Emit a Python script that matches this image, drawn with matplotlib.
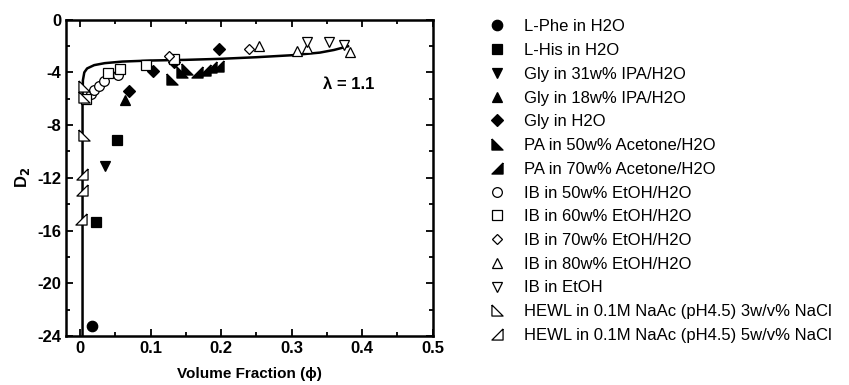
import numpy as np
import matplotlib.pyplot as plt
from matplotlib.ticker import MultipleLocator

plt.rcParams['font.family'] = ['Liberation Sans', 'DejaVu Sans']
plt.rcParams['axes.unicode_minus'] = False

# fitted curve (lambda = 1.1)
curve_phi = [0.0035, 0.0035, 0.004, 0.006, 0.01, 0.02, 0.035, 0.06, 0.1,
             0.15, 0.2, 0.25, 0.3, 0.34, 0.36, 0.38]
curve_d2 = [-24.0, -6.0, -4.6, -4.0, -3.7, -3.45, -3.3, -3.18, -3.1,
            -3.05, -2.97, -2.85, -2.7, -2.5, -2.3, -2.02]

# experimental series
labels = [
    "L-Phe in H2O",
    "L-His in H2O",
    "Gly in 31w% IPA/H2O",
    "Gly in 18w% IPA/H2O",
    "Gly in H2O",
    "PA in 50w% Acetone/H2O",
    "PA in 70w% Acetone/H2O",
    "IB in 50w% EtOH/H2O",
    "IB in 60w% EtOH/H2O",
    "IB in 70w% EtOH/H2O",
    "IB in 80w% EtOH/H2O",
    "IB in EtOH",
    "HEWL in 0.1M NaAc (pH4.5) 3w/v% NaCl",
    "HEWL in 0.1M NaAc (pH4.5) 5w/v% NaCl",
]
phi_vals = [
    [0.0166],
    [0.022, 0.052],
    [0.0355],
    [0.064],
    [0.070, 0.103, 0.133, 0.197],
    [0.130, 0.145, 0.151],
    [0.166, 0.177, 0.186, 0.196],
    [0.015, 0.020, 0.0265, 0.034, 0.054],
    [0.008, 0.039, 0.056, 0.094, 0.133],
    [0.126, 0.239],
    [0.254, 0.307, 0.322, 0.382],
    [0.322, 0.353, 0.374],
    [0.005, 0.005, 0.005],
    [0.003, 0.003, 0.002],
]
d2_vals = [
    [-23.2],
    [-15.35, -9.15],
    [-11.1],
    [-6.1],
    [-5.4, -3.9, -3.25, -2.22],
    [-4.5, -3.95, -3.75],
    [-3.95, -3.8, -3.62, -3.5],
    [-5.65, -5.35, -5.02, -4.67, -4.21],
    [-6.0, -4.05, -3.75, -3.42, -2.95],
    [-2.77, -2.19],
    [-1.99, -2.35, -2.15, -2.42],
    [-1.73, -1.73, -1.9],
    [-5.05, -5.9, -8.75],
    [-11.7, -12.95, -15.1],
]

tri_bl = [(-1, 1), (-1, -1), (1, -1), (-1, 1)]
tri_br = [(1, 1), (1, -1), (-1, -1), (1, 1)]
styles = [
    ('o', True, 7.5), ('s', True, 7.5), ('v', True, 7.5), ('^', True, 7.5),
    ('D', True, 6.5), (tri_bl, True, 8), (tri_br, True, 8),
    ('o', False, 7), ('s', False, 7), ('D', False, 5.5), ('^', False, 6.5),
    ('v', False, 6.5), (tri_bl, False, 8), (tri_br, False, 8),
]

fig = plt.figure(figsize=(8.49, 3.85), dpi=100)
ax = fig.add_axes([0.0777, 0.127, 0.432, 0.822])

ax.plot(curve_phi, curve_d2, color='black', lw=1.8, zorder=2)

for lab, xs, ys, (m, filled, ms) in zip(labels, phi_vals, d2_vals, styles):
    ax.plot(xs, ys, ls='none', marker=m, ms=ms, mec='black', mew=0.9,
            mfc='black' if filled else 'white', label=lab, zorder=3)

ax.set_xlim(-0.02, 0.5)
ax.set_ylim(-24, 0)
ax.xaxis.set_major_locator(MultipleLocator(0.1))
ax.xaxis.set_minor_locator(MultipleLocator(0.05))
ax.yaxis.set_major_locator(MultipleLocator(4))
ax.yaxis.set_minor_locator(MultipleLocator(2))
ax.set_xticks([0, 0.1, 0.2, 0.3, 0.4, 0.5])
ax.set_xticklabels(['0', '0.1', '0.2', '0.3', '0.4', '0.5'])
ax.tick_params(which='both', direction='in', top=True, right=True,
               width=1.3, labelsize=12)
ax.tick_params(which='major', length=5)
ax.tick_params(which='minor', length=3)
for lbl in ax.get_xticklabels() + ax.get_yticklabels():
    lbl.set_fontweight('bold')
for sp in ax.spines.values():
    sp.set_linewidth(1.8)

ax.set_xlabel('Volume Fraction (\u03d5)', fontsize=11, fontweight='bold', labelpad=8)
ax.set_ylabel('D$_\\mathbf{2}$', fontsize=12, fontweight='bold', labelpad=4)
ax.text(0.77, 0.795, '\u03bb = 1.1', transform=ax.transAxes, fontsize=12,
        fontweight='bold', ha='center', va='center')

ax.legend(loc='upper left', bbox_to_anchor=(0.576, 0.95),
          bbox_transform=fig.transFigure, frameon=False, fontsize=12,
          handlelength=1.0, handletextpad=1.1, labelspacing=0.525,
          borderpad=0, borderaxespad=0)

fig.savefig('out.png', dpi=100)
